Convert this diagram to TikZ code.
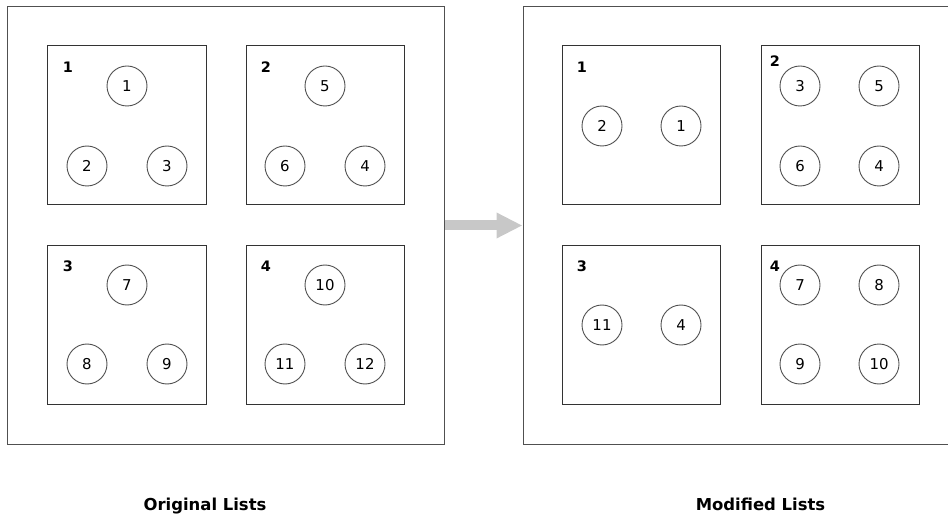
\documentclass[tikz,border=0pt]{standalone}
\usepackage{fontspec}
\setmainfont{DejaVu Sans}
\usetikzlibrary{arrows.meta}
\definecolor{arrowgray}{HTML}{C8C8C8}
\definecolor{linegray}{HTML}{505050}
\begin{document}
\begin{tikzpicture}[x=1bp,y=-1bp,
  outerbox/.style={draw=linegray, line width=1bp, minimum width=436bp, minimum height=437bp, inner sep=0pt},
  listbox/.style={draw=black!80, line width=1bp, minimum width=158bp, minimum height=159bp, inner sep=0pt},
  item/.style={circle, draw=linegray, line width=0.9bp, minimum size=40bp, inner sep=0pt, font=\fontsize{15}{15}\selectfont},
  blabel/.style={inner sep=0pt, font=\bfseries\fontsize{14.5}{14.5}\selectfont},
  title/.style={inner sep=0pt, anchor=base, font=\bfseries\fontsize{16.5}{16.5}\selectfont},
  moveto/.style={draw=arrowgray, line width=10bp, -{Triangle[length=26bp,width=24bp]}}
]
\useasboundingbox (0,0) rectangle (948,515);
% outer frames
\node[outerbox] (L) at (226,225.5) {};
\node[outerbox] (R) at (741,225.5) {};
% left inner boxes
\node[listbox] (l1) at (127,125.5) {};
\node[listbox] (l2) at (325,125.5) {};
\node[listbox] (l3) at (127,325) {};
\node[listbox] (l4) at (325,325) {};
% right inner boxes
\node[listbox] (r1) at (641.5,125.5) {};
\node[listbox] (r2) at (840,125.5) {};
\node[listbox] (r3) at (641.5,325) {};
\node[listbox] (r4) at (840,325) {};
% list labels left
\node[blabel] (ll1) at (68,67) {1};
\node[blabel] (ll2) at (266,67) {2};
\node[blabel] (ll3) at (68,266) {3};
\node[blabel] (ll4) at (266,266) {4};
% list labels right
\node[blabel] (rl1) at (582,67) {1};
\node[blabel] (rl2) at (775,61) {2};
\node[blabel] (rl3) at (582,266) {3};
\node[blabel] (rl4) at (775,266) {4};
% left items
\node[item] (a1) at (127,86) {1};
\node[item] (a2) at (87,166) {2};
\node[item] (a3) at (167,166) {3};
\node[item] (a5) at (325,86) {5};
\node[item] (a6) at (285,166) {6};
\node[item] (a4) at (365,166) {4};
\node[item] (a7) at (127,285) {7};
\node[item] (a8) at (87,364) {8};
\node[item] (a9) at (167,364) {9};
\node[item] (a10) at (325,285) {10};
\node[item] (a11) at (285,364) {11};
\node[item] (a12) at (365,364) {12};
% right items
\node[item] (b2) at (602,126) {2};
\node[item] (b1) at (681,126) {1};
\node[item] (b3) at (800,86) {3};
\node[item] (b5) at (879,86) {5};
\node[item] (b6) at (800,166) {6};
\node[item] (b4) at (879,166) {4};
\node[item] (b11) at (602,325) {11};
\node[item] (b4b) at (681,325) {4};
\node[item] (b7) at (800,285) {7};
\node[item] (b8) at (879,285) {8};
\node[item] (b9) at (800,364) {9};
\node[item] (b10) at (879,364) {10};
% arrow
\draw[moveto] (L.east) -- (R.west);
% titles
\node[title] (t1) at (205,510) {Original Lists};
\node[title] (t2) at (760.5,510) {Modified Lists};
\end{tikzpicture}
\end{document}
